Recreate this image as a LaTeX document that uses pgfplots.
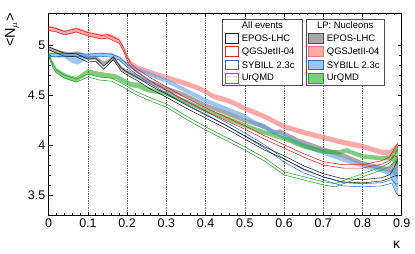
\documentclass[border=0pt]{standalone}
\usepackage{fontspec}
\setmainfont{Liberation Sans}
\usepackage{pgfplots}
\usepackage{pgfplotstable}
\pgfplotsset{compat=1.18}
\usepgfplotslibrary{fillbetween}

\definecolor{cblack}{RGB}{30,30,30}
\definecolor{cred}{RGB}{232,30,30}
\definecolor{cblue}{RGB}{40,110,210}
\definecolor{cgreen}{RGB}{40,165,40}
\definecolor{fgray}{RGB}{110,110,110}
\definecolor{fpink}{RGB}{255,110,110}
\definecolor{fblue}{RGB}{90,160,230}
\definecolor{fgreen}{RGB}{40,170,40}

% LP: Nucleons (filled bands): x, centre, half width
\pgfplotstableread{
x c w
0 5.175 0.024
0.02 5.16 0.024
0.04 5.13 0.024
0.055 5.14 0.024
0.07 5.16 0.024
0.085 5.14 0.024
0.10 5.12 0.024
0.12 5.10 0.024
0.135 5.09 0.024
0.15 5.10 0.024
0.165 5.08 0.024
0.18 5.05 0.024
0.19 4.98 0.026
0.20 4.89 0.026
0.21 4.82 0.026
0.225 4.78 0.026
0.26 4.73 0.026
0.30 4.68 0.026
0.35 4.62 0.026
0.385 4.57 0.026
0.40 4.54 0.026
0.42 4.49 0.026
0.44 4.47 0.026
0.47 4.43 0.026
0.50 4.37 0.026
0.55 4.29 0.026
0.60 4.19 0.026
0.65 4.13 0.026
0.70 4.08 0.026
0.75 4.03 0.026
0.80 3.99 0.026
0.85 3.93 0.026
0.87 3.93 0.026
0.88 3.96 0.03
0.89 3.97 0.05
}\qgsLP

\pgfplotstableread{
x c w
0 4.97 0.02
0.02 4.945 0.02
0.04 4.92 0.02
0.06 4.915 0.02
0.07 4.925 0.02
0.085 4.91 0.02
0.10 4.88 0.02
0.12 4.88 0.02
0.14 4.82 0.02
0.15 4.84 0.02
0.165 4.87 0.02
0.18 4.80 0.02
0.19 4.76 0.02
0.22 4.70 0.022
0.26 4.63 0.022
0.30 4.57 0.022
0.35 4.50 0.022
0.40 4.40 0.022
0.45 4.33 0.022
0.50 4.25 0.022
0.55 4.19 0.022
0.575 4.13 0.022
0.59 4.14 0.022
0.60 4.12 0.022
0.635 4.05 0.022
0.70 3.96 0.022
0.75 3.90 0.022
0.80 3.82 0.022
0.85 3.77 0.022
0.87 3.76 0.025
0.88 3.77 0.06
0.89 3.78 0.12
}\eposLP

\pgfplotstableread{
x c w
0 4.91 0.02
0.02 4.90 0.02
0.04 4.90 0.02
0.06 4.87 0.045
0.075 4.86 0.05
0.09 4.88 0.03
0.10 4.90 0.02
0.13 4.91 0.02
0.16 4.91 0.02
0.18 4.87 0.02
0.20 4.81 0.022
0.22 4.77 0.022
0.26 4.71 0.022
0.30 4.65 0.022
0.35 4.55 0.022
0.40 4.45 0.022
0.45 4.37 0.022
0.50 4.29 0.022
0.52 4.24 0.022
0.55 4.18 0.022
0.60 4.09 0.022
0.65 4.00 0.022
0.70 3.93 0.022
0.75 3.86 0.022
0.80 3.80 0.022
0.85 3.75 0.022
0.87 3.72 0.025
0.88 3.68 0.08
0.89 3.66 0.15
}\sibLP

\pgfplotstableread{
x c w
0 4.91 0.02
0.01 4.82 0.025
0.02 4.75 0.025
0.04 4.70 0.025
0.06 4.67 0.025
0.07 4.66 0.025
0.085 4.70 0.025
0.10 4.74 0.025
0.12 4.72 0.025
0.15 4.70 0.025
0.17 4.69 0.025
0.19 4.65 0.025
0.21 4.61 0.025
0.23 4.60 0.03
0.25 4.56 0.025
0.30 4.52 0.022
0.35 4.44 0.022
0.40 4.35 0.022
0.45 4.28 0.022
0.50 4.20 0.022
0.55 4.13 0.022
0.60 4.07 0.022
0.65 3.99 0.022
0.70 3.94 0.022
0.74 3.93 0.022
0.76 3.95 0.022
0.80 3.89 0.022
0.85 3.87 0.022
0.87 3.88 0.025
0.88 3.89 0.06
0.89 3.90 0.10
}\urqLP

% All events (outlined bands): x, centre, half width
\pgfplotstableread{
x c w
0 5.17 0.017
0.02 5.155 0.017
0.04 5.125 0.017
0.07 5.155 0.017
0.10 5.115 0.017
0.135 5.085 0.017
0.15 5.095 0.017
0.18 5.04 0.017
0.19 4.97 0.017
0.20 4.87 0.017
0.21 4.80 0.017
0.225 4.75 0.017
0.26 4.66 0.017
0.30 4.57 0.017
0.35 4.46 0.017
0.40 4.36 0.017
0.45 4.27 0.017
0.50 4.18 0.017
0.55 4.08 0.017
0.60 3.99 0.017
0.65 3.90 0.017
0.70 3.82 0.017
0.75 3.79 0.017
0.80 3.79 0.017
0.85 3.83 0.017
0.87 3.87 0.019
0.88 3.93 0.03
0.89 3.95 0.07
}\qgsAll

\pgfplotstableread{
x c w
0 4.975 0.015
0.02 4.94 0.015
0.04 4.91 0.015
0.07 4.905 0.015
0.10 4.85 0.015
0.12 4.86 0.015
0.14 4.78 0.015
0.165 4.875 0.015
0.185 4.76 0.015
0.20 4.72 0.015
0.22 4.68 0.016
0.26 4.58 0.016
0.30 4.50 0.016
0.35 4.39 0.016
0.40 4.29 0.016
0.45 4.19 0.016
0.50 4.08 0.016
0.55 3.97 0.016
0.60 3.88 0.016
0.65 3.78 0.016
0.70 3.70 0.016
0.75 3.65 0.016
0.80 3.64 0.016
0.85 3.66 0.016
0.87 3.69 0.018
0.88 3.73 0.04
0.89 3.78 0.08
}\eposAll

\pgfplotstableread{
x c w
0 4.91 0.015
0.04 4.905 0.015
0.07 4.91 0.015
0.10 4.90 0.015
0.13 4.91 0.015
0.16 4.90 0.015
0.18 4.87 0.015
0.20 4.80 0.015
0.22 4.74 0.016
0.26 4.63 0.016
0.30 4.54 0.016
0.35 4.43 0.016
0.40 4.33 0.016
0.45 4.22 0.016
0.50 4.11 0.016
0.55 3.99 0.016
0.60 3.85 0.016
0.65 3.74 0.016
0.70 3.67 0.016
0.75 3.61 0.016
0.80 3.60 0.016
0.85 3.61 0.016
0.875 3.64 0.018
0.885 3.57 0.04
0.89 3.56 0.06
}\sibAll

\pgfplotstableread{
x c w
0 4.91 0.015
0.01 4.80 0.015
0.02 4.74 0.015
0.04 4.69 0.015
0.07 4.65 0.015
0.10 4.70 0.015
0.13 4.67 0.015
0.16 4.66 0.015
0.19 4.60 0.016
0.22 4.53 0.016
0.26 4.46 0.016
0.30 4.40 0.016
0.35 4.28 0.016
0.40 4.17 0.016
0.45 4.07 0.016
0.50 3.97 0.016
0.55 3.86 0.016
0.60 3.72 0.016
0.65 3.67 0.016
0.70 3.62 0.016
0.73 3.60 0.016
0.75 3.63 0.016
0.80 3.70 0.016
0.85 3.77 0.016
0.87 3.81 0.018
0.88 3.86 0.03
0.89 3.90 0.06
}\urqAll

\newcommand{\fillband}[3]{%
  \addplot[draw=none, name path=#3u, forget plot] table[x=x, y expr=\thisrow{c}+\thisrow{w}] {#1};
  \addplot[draw=none, name path=#3l, forget plot] table[x=x, y expr=\thisrow{c}-\thisrow{w}] {#1};
  \addplot[fill=#2, fill opacity=0.6, draw=none, forget plot] fill between[of=#3u and #3l];
}
\newcommand{\lineband}[2]{%
  \addplot[color=#2, line width=0.55pt, forget plot] table[x=x, y expr=\thisrow{c}+\thisrow{w}] {#1};
  \addplot[color=#2, line width=0.55pt, forget plot] table[x=x, y expr=\thisrow{c}-\thisrow{w}] {#1};
}

\begin{document}
\begin{tikzpicture}
\begin{axis}[
  scale only axis, width=353bp, height=202.7bp,
  xmin=0, xmax=0.9, ymin=3.295, ymax=5.328,
  xtick={0,0.1,0.2,0.3,0.4,0.5,0.6,0.7,0.8,0.9},
  xticklabels={0,0.1,0.2,0.3,0.4,0.5,0.6,0.7,0.8,0.9},
  ytick={3.5,4,4.5,5},
  yticklabels={3.5,4,4.5,5},
  minor x tick num=4, minor y tick num=4,
  xmajorgrids,
  grid style={dash pattern=on 0.45pt off 1.3pt, black!60, line width=0.45pt},
  major tick length=4bp, minor tick length=2.5bp,
  tick style={black, line width=0.6pt},
  axis line style={line width=0.8pt},
  tick label style={font=\fontsize{12.5}{13}\selectfont},
  /pgf/number format/assume math mode=true,
]
\fillband{\eposLP}{fgray}{ea}
\fillband{\qgsLP}{fpink}{qa}
\fillband{\sibLP}{fblue}{sa}
\fillband{\urqLP}{fgreen}{ua}
\lineband{\urqAll}{cgreen}
\lineband{\sibAll}{cblue}
\lineband{\qgsAll}{cred}
\lineband{\eposAll}{cblack}
\end{axis}
% y label and x label
\node[rotate=90, font=\fontsize{14.5}{15}\selectfont] at (-36.7bp,185.7bp) {<N$_{\mu}$>};
\node[font=\fontsize{14}{15}\selectfont] at (348bp,-29bp) {κ};
% legend 1
\begin{scope}[font=\fontsize{9.5}{10}\selectfont]
\draw[line width=0.6pt, draw=black!70, fill=white] (174bp,130.7bp) rectangle (253.3bp,196.4bp);
\node at (213.7bp,190.4bp) {All events};
\draw[cblack, line width=0.8pt] (176.8bp,172.6bp) rectangle (189.6bp,182.2bp);
\node[anchor=west, inner sep=0pt] at (193bp,177.4bp) {EPOS-LHC};
\draw[cred, line width=0.8pt] (176.8bp,159.2bp) rectangle (189.6bp,168.8bp);
\node[anchor=west, inner sep=0pt] at (193bp,164bp) {QGSJetII-04};
\draw[cblue, line width=0.8pt] (176.8bp,145.9bp) rectangle (189.6bp,155.5bp);
\node[anchor=west, inner sep=0pt] at (193bp,150.7bp) {SYBILL 2.3c};
\draw[cgreen, line width=0.8pt] (176.8bp,132.6bp) rectangle (189.6bp,142.2bp);
\node[anchor=west, inner sep=0pt] at (193bp,137.4bp) {UrQMD};
% legend 2
\draw[line width=0.6pt, draw=black!70, fill=white] (257.3bp,130.7bp) rectangle (335.6bp,196.4bp);
\node at (296.5bp,190.4bp) {LP: Nucleons};
\draw[black!70, fill=fgray, fill opacity=0.6, line width=0.8pt] (259.8bp,172.6bp) rectangle (274.4bp,182.2bp);
\node[anchor=west, inner sep=0pt] at (278bp,177.4bp) {EPOS-LHC};
\draw[fpink, fill=fpink, fill opacity=0.6, line width=0.8pt] (259.8bp,159.2bp) rectangle (274.4bp,168.8bp);
\node[anchor=west, inner sep=0pt] at (278bp,164bp) {QGSJetII-04};
\draw[cblue, fill=fblue, fill opacity=0.6, line width=0.8pt] (259.8bp,145.9bp) rectangle (274.4bp,155.5bp);
\node[anchor=west, inner sep=0pt] at (278bp,150.7bp) {SYBILL 2.3c};
\draw[cgreen, fill=fgreen, fill opacity=0.6, line width=0.8pt] (259.8bp,132.6bp) rectangle (274.4bp,142.2bp);
\node[anchor=west, inner sep=0pt] at (278bp,137.4bp) {UrQMD};
\end{scope}
\pgfresetboundingbox
\path (-48.7bp,-38.3bp) rectangle (366.3bp,215.7bp);
\end{tikzpicture}
\end{document}
